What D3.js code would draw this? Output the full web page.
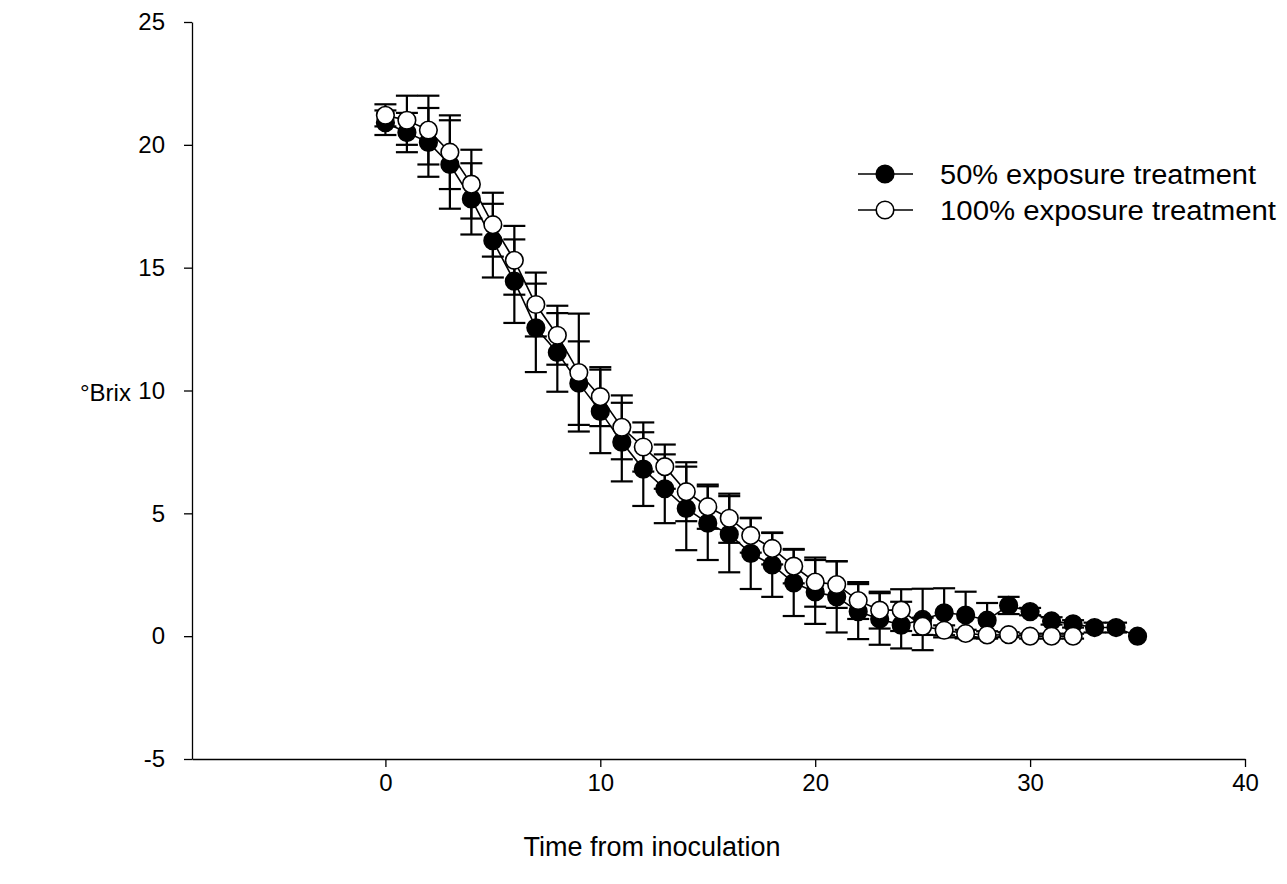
<!DOCTYPE html>
<html>
<head>
<meta charset="utf-8">
<script src="https://cdn.jsdelivr.net/npm/d3@7"></script>
<style>
  html, body { margin: 0; padding: 0; background: #fff; }
  svg { display: block; font-family: Arial, "Liberation Sans", sans-serif; }
</style>
</head>
<body>
<svg id="chart" width="1287" height="884"></svg>
<script>
// ---- data ----
const days50 = [0,1,2,3,4,5,6,7,8,9,10,11,12,13,14,15,16,17,18,19,20,21,22,23,24,25,26,27,28,29,30,31,32,33,34,35];
const brix50 = [20.9,20.5,20.1,19.2,17.8,16.1,14.45,12.55,11.55,10.3,9.15,7.9,6.8,6.0,5.2,4.6,4.15,3.37,2.9,2.17,1.8,1.6,1.0,0.7,0.45,0.68,0.95,0.86,0.65,1.25,1.0,0.62,0.5,0.35,0.35,0.0];
const err50  = [0.5,0.8,1.4,1.8,1.45,1.5,1.7,1.8,1.6,1.7,1.7,1.6,1.5,1.4,1.7,1.5,1.55,1.45,1.3,1.35,1.3,1.45,1.12,1.05,0.95,1.25,1.0,0.95,0.7,0.35,0.15,0.15,0.15,0.2,0.2,0.0];

const days100 = [0,1,2,3,4,5,6,7,8,9,10,11,12,13,14,15,16,17,18,19,20,21,22,23,24,25,26,27,28,29,30,31,32];
const brix100 = [21.2,21.0,20.6,19.7,18.4,16.75,15.3,13.5,12.25,10.73,9.75,8.5,7.7,6.9,5.88,5.27,4.8,4.1,3.57,2.85,2.2,2.1,1.45,1.06,1.06,0.4,0.24,0.11,0.05,0.06,0.0,0.0,0.0];
const err100  = [0.45,1.0,1.4,1.5,1.4,1.3,1.4,1.3,1.2,2.4,1.2,1.3,1.0,0.9,1.2,0.9,1.0,0.7,0.65,0.7,1.0,0.95,0.75,0.75,0.85,0.35,0.2,0.15,0.15,0.1,0.1,0.1,0.1];

const xTicks = [0,10,20,30,40];
const yTicks = [-5,0,5,10,15,20,25];
const seriesNames = ["50% exposure treatment","100% exposure treatment"];
const xTitle = "Time from inoculation";
const yTitle = "°Brix";

// ---- build ----
const svg = d3.select("#chart");
const x = d3.scaleLinear().domain([-9, 40]).range([192, 1245]);
const y = d3.scaleLinear().domain([-5, 25]).range([759, 22]);

const series = [
  { name: seriesNames[0], fill: "#000", data: days50.map((d,i)=>({x:d, y:brix50[i], e:err50[i]})) },
  { name: seriesNames[1], fill: "#fff", data: days100.map((d,i)=>({x:d, y:brix100[i], e:err100[i]})) }
];

// axes
const fmt = d => String(d);
const xAxis = d3.axisBottom(x).tickValues(xTicks).tickFormat(fmt).tickSize(8).tickSizeOuter(0);
const yAxis = d3.axisLeft(y).tickValues(yTicks).tickFormat(fmt).tickSize(8).tickSizeOuter(0);

const gx = svg.append("g").attr("transform", "translate(0,759)").call(xAxis);
const gy = svg.append("g").attr("transform", "translate(192,0)").call(yAxis);
[gx, gy].forEach(g => {
  g.attr("font-size", null).attr("font-family", null);
  g.select(".domain").attr("stroke", "#000").attr("stroke-width", 1.3);
  g.selectAll(".tick line").attr("stroke", "#000").attr("stroke-width", 1.3);
  g.selectAll(".tick text").attr("fill", "#000").style("font-size", "24px")
   .style("font-family", "Arial, 'Liberation Sans', sans-serif");
});
gx.selectAll(".tick text").attr("dy", "0.71em").attr("y", 15);
gy.selectAll(".tick text").attr("x", -27);

// titles
svg.append("text").attr("x", 652).attr("y", 856).attr("text-anchor", "middle")
  .style("font-size", "27px").attr("fill", "#000").text(xTitle);
svg.append("text").attr("x", 80).attr("y", 401).attr("text-anchor", "start")
  .style("font-size", "24px").attr("fill", "#000").text(yTitle);

const capW = 11;
// error bars
series.forEach(s => {
  const g = svg.append("g");
  s.data.filter(d => d.e > 0).forEach(d => {
    const cx = x(d.x), y1 = y(d.y + d.e), y2 = y(d.y - d.e);
    g.append("line").attr("x1", cx).attr("x2", cx).attr("y1", y1).attr("y2", y2)
      .attr("stroke", "#000").attr("stroke-width", 2.2);
    [y1, y2].forEach(yy => g.append("line").attr("x1", cx - capW).attr("x2", cx + capW)
      .attr("y1", yy).attr("y2", yy).attr("stroke", "#000").attr("stroke-width", 2.2));
  });
});

// lines
const line = d3.line().x(d => x(d.x)).y(d => y(d.y));
series.forEach(s => {
  svg.append("path").datum(s.data).attr("d", line)
    .attr("fill", "none").attr("stroke", "#000").attr("stroke-width", 1.6);
});

// markers
series.forEach(s => {
  svg.append("g").selectAll("circle").data(s.data).join("circle")
    .attr("cx", d => x(d.x)).attr("cy", d => y(d.y)).attr("r", 8.8)
    .attr("fill", s.fill).attr("stroke", "#000").attr("stroke-width", 1.6);
});

// legend
const leg = svg.append("g");
series.forEach((s, i) => {
  const ly = 174 + i * 36;
  leg.append("line").attr("x1", 858).attr("x2", 913).attr("y1", ly).attr("y2", ly)
    .attr("stroke", "#000").attr("stroke-width", 1.6);
  leg.append("circle").attr("cx", 885).attr("cy", ly).attr("r", 8.8)
    .attr("fill", s.fill).attr("stroke", "#000").attr("stroke-width", 1.6);
  leg.append("text").attr("x", 940).attr("y", ly).attr("dy", "0.36em")
    .style("font-size", "27px").attr("fill", "#000")
    .attr("textLength", i === 0 ? 316 : 336).attr("lengthAdjust", "spacingAndGlyphs")
    .text(s.name);
});
</script>
</body>
</html>
